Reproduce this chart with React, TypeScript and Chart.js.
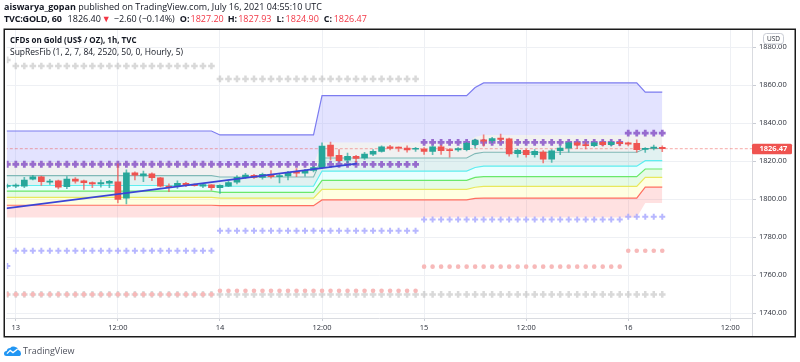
import React, { useEffect, useRef } from "react";
import { Chart, registerables } from "chart.js";

Chart.register(...registerables);

const FONT = "'Open Sans', 'Liberation Sans', Arial, sans-serif";

// ---- candles: hourly bars, first bar = hour -1 (12th 23:00), hour 0 = 13th 00:00
const firstHour = -1;
const opens = [
  1806.6, 1806.8, 1806.8, 1810.5, 1811.7, 1808.9, 1809.5, 1806.5, 1810.5, 1809.6,
  1808.6, 1807.9, 1808.3, 1809.1, 1800.4, 1813.8, 1812.1, 1813.2, 1811.2, 1806.8,
  1807.0, 1808.3, 1807.7, 1806.8, 1807.4, 1806.0, 1806.8, 1808.8, 1811.4, 1812.4,
  1811.4, 1813.0, 1811.8, 1812.2, 1814.4, 1813.6, 1815.0, 1816.5, 1828.4, 1823.0,
  1820.4, 1822.5, 1821.6, 1823.6, 1825.1, 1827.4, 1827.1, 1826.8, 1826.2, 1826.3,
  1825.1, 1827.5, 1826.0, 1825.8, 1826.0, 1828.6, 1831.2, 1830.7, 1832.0, 1831.7,
  1823.8, 1825.6, 1823.3, 1824.7, 1820.9, 1825.4, 1826.8, 1829.5, 1828.7, 1828.1,
  1829.8, 1828.6, 1829.8, 1829.5, 1829.3, 1826.1, 1826.8, 1827.2,
];
const highs = [
  1807.8, 1808.0, 1811.4, 1812.5, 1812.0, 1810.3, 1810.0, 1811.8, 1811.3, 1810.0,
  1809.0, 1810.0, 1809.8, 1818.5, 1815.3, 1814.3, 1814.7, 1813.8, 1811.4, 1808.0,
  1809.5, 1808.8, 1808.0, 1808.0, 1807.6, 1807.5, 1809.5, 1812.3, 1813.5, 1813.0,
  1813.6, 1814.9, 1813.0, 1814.5, 1816.0, 1815.6, 1817.0, 1829.6, 1830.0, 1826.0,
  1824.2, 1823.0, 1824.5, 1826.0, 1828.0, 1828.2, 1827.5, 1828.0, 1827.2, 1827.0,
  1828.0, 1828.2, 1826.6, 1827.0, 1829.8, 1831.5, 1833.8, 1832.5, 1834.2, 1832.0,
  1826.3, 1826.3, 1826.0, 1825.5, 1826.0, 1828.0, 1830.0, 1830.2, 1830.0, 1830.0,
  1830.5, 1830.5, 1830.8, 1830.0, 1831.2, 1827.0, 1828.4, 1827.93,
];
const lows = [
  1805.8, 1806.0, 1806.0, 1810.0, 1807.2, 1807.7, 1805.3, 1805.5, 1808.3, 1805.1,
  1806.0, 1806.2, 1806.0, 1798.0, 1797.4, 1810.0, 1809.1, 1809.6, 1806.3, 1803.8,
  1805.6, 1806.5, 1806.7, 1806.0, 1804.7, 1803.0, 1806.5, 1808.0, 1810.8, 1810.8,
  1810.5, 1811.0, 1808.5, 1810.0, 1811.7, 1812.0, 1814.3, 1816.0, 1820.5, 1819.8,
  1818.9, 1819.5, 1820.8, 1822.8, 1824.6, 1825.8, 1825.0, 1824.7, 1825.0, 1823.5,
  1823.3, 1823.5, 1822.0, 1825.0, 1825.3, 1826.8, 1827.8, 1829.6, 1830.5, 1822.5,
  1822.0, 1822.0, 1822.0, 1819.0, 1819.3, 1823.3, 1824.7, 1826.5, 1826.3, 1827.5,
  1827.8, 1827.8, 1828.0, 1828.0, 1824.7, 1824.5, 1825.8, 1824.9,
];
const closes = [
  1807.0, 1807.3, 1810.0, 1811.7, 1809.1, 1809.2, 1806.2, 1810.5, 1809.4, 1808.6,
  1807.9, 1808.6, 1809.3, 1799.8, 1813.8, 1812.6, 1813.2, 1811.2, 1806.8, 1806.2,
  1808.3, 1807.0, 1807.0, 1807.6, 1805.9, 1807.2, 1808.6, 1811.4, 1812.6, 1811.4,
  1813.0, 1811.8, 1812.2, 1814.0, 1813.6, 1815.1, 1816.5, 1827.9, 1822.5, 1820.2,
  1822.5, 1821.3, 1823.7, 1825.1, 1827.4, 1826.6, 1826.8, 1825.8, 1826.6, 1825.1,
  1827.5, 1825.4, 1825.4, 1826.5, 1829.3, 1831.0, 1830.4, 1831.8, 1831.4, 1823.7,
  1825.6, 1823.3, 1825.1, 1820.9, 1825.4, 1826.8, 1829.5, 1828.3, 1828.1, 1829.5,
  1828.6, 1829.8, 1829.1, 1828.8, 1826.0, 1826.6, 1827.0, 1826.47,
];
const lastPrice = 1826.47;

// ---- axes
const xTickHours = [0, 12, 24, 36, 48, 60, 72, 84];
const xTickLabels = ["13", "12:00", "14", "12:00", "15", "12:00", "16", "12:00"];
const yTickValues = [1740, 1760, 1780, 1800, 1820, 1840, 1860, 1880];
const xMin = -1.06;
const xMax = 86.55;
const yMin = 1737.37;
const yMax = 1888.95;

// ---- SupResFib bands (break points in hours)
const bandHours = [-2, 23, 24, 35, 36, 53, 54, 55, 73, 74, 76];
const bandTop = [1835.8, 1835.8, 1833.7, 1833.7, 1854.4, 1854.4, 1858.7, 1861.1, 1861.1, 1856.3, 1856.3];
const bandGray = [1819.5, 1819.5, 1817.9, 1817.9, 1829.8, 1829.8, 1832.6, 1833.7, 1833.7, 1834.0, 1834.0];
const bandTeal = [1812.3, 1812.3, 1811.6, 1811.6, 1821.6, 1821.6, 1823.9, 1824.6, 1824.6, 1826.6, 1826.6];
const bandCyan = [1807.1, 1807.1, 1806.7, 1806.7, 1814.7, 1814.7, 1816.6, 1817.3, 1817.3, 1820.2, 1820.2];
const bandGreen = [1804.1, 1804.1, 1803.5, 1803.5, 1809.8, 1809.8, 1811.4, 1811.8, 1811.8, 1815.8, 1815.8];
const bandYellow = [1800.9, 1800.9, 1800.5, 1800.5, 1805.1, 1805.1, 1806.2, 1806.6, 1806.6, 1811.4, 1811.4];
const bandRed = [1796.7, 1796.7, 1796.5, 1796.5, 1799.5, 1799.5, 1800.3, 1800.5, 1800.5, 1806.2, 1806.2];
const bandBottom = [1790.2, 1790.2, 1790.2, 1790.2, 1790.2, 1790.2, 1790.2, 1790.2, 1790.2, 1797.9, 1797.9];

// ---- daily marker levels (days: 12th tail, 13, 14, 15, 16)
const dayFirstHours = [-1, 0, 24, 48, 72];
const dayLastHours = [-1, 23, 47, 71, 76];
const grayUpperLevels = [1873.2, 1870.0, 1863.2, null, null];
const purpleLevels = [1818.3, 1818.3, 1818.2, 1829.8, 1834.7];
const lavenderLevels = [1764.7, 1772.8, 1783.3, 1789.2, 1790.6];
const pinkLevels = [1749.8, 1749.8, 1751.7, 1764.4, 1772.8];
const grayLowerLevels = [1749.8, 1749.8, 1749.8, 1749.8, 1749.8];

// ---- drawn trend line
const trendHours = [-2, 40.1];
const trendValues = [1794.6, 1818.6];

const UP = "#26a69a";
const DOWN = "#ef5350";

function dailyPoints(levels: (number | null)[]) {
  const pts: { x: number; y: number }[] = [];
  levels.forEach((lv, d) => {
    if (lv == null) return;
    for (let h = dayFirstHours[d]; h <= dayLastHours[d]; h++) pts.push({ x: h, y: lv });
  });
  return pts;
}

function bandPoints(values: number[]) {
  return values.map((v, i) => ({ x: bandHours[i], y: v }));
}

const overlayPlugin = {
  id: "overlay",
  afterDraw(chart: any) {
    const ctx = chart.ctx as CanvasRenderingContext2D;
    const a = chart.chartArea;
    const y = chart.scales.y;
    ctx.save();
    ctx.strokeStyle = "#d9dbe0";
    ctx.lineWidth = 1;
    ctx.beginPath();
    ctx.moveTo(a.right + 0.5, a.bottom);
    ctx.lineTo(a.right + 0.5, 337);
    ctx.stroke();
    const py = y.getPixelForValue(lastPrice);
    ctx.fillStyle = DOWN;
    ctx.beginPath();
    (ctx as any).roundRect(a.right, py - 5, 40, 10.5, 1.5);
    ctx.fill();
    ctx.fillStyle = "#ffffff";
    ctx.font = `bold 7.5px ${FONT}`;
    ctx.textBaseline = "middle";
    ctx.textAlign = "left";
    ctx.fillText(lastPrice.toFixed(2), a.right + 7.5, py + 0.5);
    ctx.fillStyle = "#ffffff";
    ctx.strokeStyle = "#c9ccd4";
    ctx.beginPath();
    (ctx as any).roundRect(763.5, 33.5, 20, 10.5, 3);
    ctx.fill();
    ctx.stroke();
    ctx.fillStyle = "#2a2e39";
    ctx.font = `6.5px ${FONT}`;
    ctx.textAlign = "center";
    ctx.fillText("USD", 773.5, 39);
    ctx.strokeStyle = "#1b1b1b";
    ctx.lineWidth = 1.5;
    ctx.strokeRect(4.25, 29.25, 791, 307.5);
    ctx.restore();
  },
};

const headerPieces: { text: string; gap: number; bold?: boolean; red?: boolean }[] = [
  { text: "TVC:GOLD, 60", gap: 0, bold: true },
  { text: "1826.40", gap: 6 },
  { text: "▼", gap: 1 },
  { text: "−2.60 (−0.14%)", gap: 3 },
  { text: "O:", gap: 5, bold: true },
  { text: "1827.20", gap: 1, red: true },
  { text: "H:", gap: 4, bold: true },
  { text: "1827.93", gap: 1, red: true },
  { text: "L:", gap: 5, bold: true },
  { text: "1824.90", gap: 1.5, red: true },
  { text: "C:", gap: 5, bold: true },
  { text: "1826.47", gap: 1.5, red: true },
];

export default function App() {
  const ref = useRef<HTMLCanvasElement>(null);

  useEffect(() => {
    const canvas = ref.current!;
    const hours = opens.map((_, i) => firstHour + i);
    const isUp = opens.map((o, i) => closes[i] >= o);

    const lineBase = {
      type: "line" as const,
      pointRadius: 0,
      tension: 0,
      clip: 0,
    };
    const bands = [
      { data: bandPoints(bandTop), borderColor: "#7c7cf0", borderWidth: 1.2, fill: "+1", backgroundColor: "rgba(170,170,255,0.33)" },
      { data: bandPoints(bandGray), borderColor: "rgba(0,0,0,0)", borderWidth: 1, fill: "+1", backgroundColor: "rgba(190,190,190,0.22)" },
      { data: bandPoints(bandTeal), borderColor: "#80b9b7", borderWidth: 1.1, fill: "+1", backgroundColor: "rgba(120,190,190,0.22)" },
      { data: bandPoints(bandCyan), borderColor: "#5eeef0", borderWidth: 1.2, fill: "+1", backgroundColor: "rgba(100,255,255,0.14)" },
      { data: bandPoints(bandGreen), borderColor: "#6ae86a", borderWidth: 1.2, fill: "+1", backgroundColor: "rgba(100,230,100,0.16)" },
      { data: bandPoints(bandYellow), borderColor: "#e8e85c", borderWidth: 1.2, fill: "+1", backgroundColor: "rgba(255,255,120,0.22)" },
      { data: bandPoints(bandRed), borderColor: "#ff6f61", borderWidth: 1.2, fill: "+1", backgroundColor: "rgba(255,120,120,0.22)" },
      { data: bandPoints(bandBottom), borderColor: "rgba(0,0,0,0)", borderWidth: 1, fill: false },
    ].map((d, i) => ({ ...lineBase, ...d, order: 200 - i }));

    const markerBase = {
      type: "line" as const,
      showLine: false,
      clip: 0,
    };
    const markers = [
      { data: dailyPoints(grayLowerLevels), pointStyle: "cross", pointRadius: 3.3, pointBorderWidth: 2.5, pointBorderColor: "rgba(185,185,185,0.55)", order: 49 },
      { data: dailyPoints(pinkLevels), pointStyle: "circle", pointRadius: 2.3, pointBorderWidth: 0, pointBackgroundColor: "#f7b9b9", pointBorderColor: "#f7b9b9", order: 48 },
      { data: dailyPoints(lavenderLevels), pointStyle: "cross", pointRadius: 3, pointBorderWidth: 2, pointBorderColor: "rgba(170,170,255,0.85)", order: 47 },
      { data: dailyPoints(grayUpperLevels), pointStyle: "cross", pointRadius: 3.3, pointBorderWidth: 2.5, pointBorderColor: "rgba(185,185,185,0.55)", order: 46 },
      { data: dailyPoints(purpleLevels), pointStyle: "cross", pointRadius: 3.4, pointBorderWidth: 2.8, pointBorderColor: "rgba(140,90,200,0.88)", order: 45 },
    ].map((d) => ({ ...markerBase, ...d }));

    const datasets: any[] = [
      ...bands,
      {
        ...lineBase,
        data: [{ x: xMin - 2, y: lastPrice }, { x: xMax + 2, y: lastPrice }],
        borderColor: "rgba(239,83,80,0.5)",
        borderWidth: 1,
        borderDash: [3, 2],
        fill: false,
        order: 60,
      },
      ...markers,
      {
        type: "bar",
        data: hours.map((h, i) => ({ x: h, y: [lows[i], highs[i]] })),
        backgroundColor: isUp.map((u) => (u ? "rgba(38,166,154,0.7)" : "rgba(239,83,80,0.7)")),
        barThickness: 1,
        grouped: false,
        borderWidth: 0,
        clip: 0,
        order: 20,
      },
      {
        type: "bar",
        data: hours.map((h, i) => ({ x: h, y: [opens[i], closes[i]] })),
        backgroundColor: isUp.map((u) => (u ? UP : DOWN)),
        barThickness: 6,
        minBarLength: 1,
        grouped: false,
        borderWidth: 0,
        clip: 0,
        order: 10,
      },
      {
        ...lineBase,
        data: trendHours.map((h, i) => ({ x: h, y: trendValues[i] })),
        borderColor: "#3b44d6",
        borderWidth: 1.8,
        fill: false,
        order: 0,
      },
    ];

    const tickFont = { family: FONT, size: 7.5 };
    const chart = new Chart(canvas, {
      type: "line",
      data: { datasets },
      options: {
        responsive: false,
        animation: false,
        events: [],
        layout: { padding: { left: 5, top: 30, right: 5, bottom: 25 } },
        plugins: {
          legend: { display: false },
          tooltip: { enabled: false },
          filler: { drawTime: "beforeDatasetsDraw" },
        },
        scales: {
          x: {
            type: "linear",
            min: xMin,
            max: xMax,
            offset: false,
            afterBuildTicks: (s: any) => {
              s.ticks = xTickHours.map((v) => ({ value: v }));
            },
            afterFit: (s: any) => {
              s.height = 19;
            },
            ticks: {
              callback: (_v: any, i: number) => xTickLabels[i],
              font: tickFont,
              color: "#2a2e39",
              padding: 2,
              autoSkip: false,
              maxRotation: 0,
            },
            grid: { color: "#eef0f4", tickColor: "#c9ccd4", tickLength: 3, offset: false },
            border: { color: "#d9dbe0" },
          },
          y: {
            type: "linear",
            position: "right",
            min: yMin,
            max: yMax,
            afterBuildTicks: (s: any) => {
              s.ticks = yTickValues.map((v) => ({ value: v }));
            },
            afterFit: (s: any) => {
              s.width = 43;
            },
            ticks: {
              callback: (v: any) => Number(v).toFixed(2),
              font: tickFont,
              color: "#2a2e39",
              padding: 3,
              crossAlign: "near",
            },
            grid: { color: "#eef0f4", tickColor: "#c9ccd4", tickLength: 4 },
            border: { color: "#d9dbe0" },
          },
        },
      } as any,
      plugins: [overlayPlugin],
    });
    return () => chart.destroy();
  }, []);

  const red = "#f23645";
  return (
    <div
      style={{
        position: "fixed",
        left: 0,
        top: 0,
        width: 800,
        height: 362,
        background: "#ffffff",
        overflow: "hidden",
        fontFamily: FONT,
        color: "#131722",
      }}
    >
      <canvas ref={ref} width={800} height={362} style={{ position: "absolute", left: 0, top: 0 }} />
      <div style={{ position: "absolute", left: 4, top: 1, fontSize: 9, lineHeight: "12px", whiteSpace: "nowrap" }}>
        <b>aiswarya_gopan</b> published on TradingView.com, July 16, 2021 04:55:10 UTC
      </div>
      <div
        style={{
          position: "absolute",
          left: 4,
          top: 13,
          fontSize: 9,
          lineHeight: "12px",
          whiteSpace: "nowrap",
          display: "flex",
        }}
      >
        {headerPieces.map((p, i) => (
          <span
            key={i}
            style={{
              marginLeft: p.gap,
              fontWeight: p.bold ? 700 : 400,
              letterSpacing: i === 0 ? -0.2 : 0,
              color: p.red || p.text === "▼" ? red : "#131722",
            }}
          >
            {p.text}
          </span>
        ))}
      </div>
      <div style={{ position: "absolute", left: 10, top: 34, fontSize: 8, lineHeight: "12px", fontWeight: 700, whiteSpace: "nowrap" }}>
        CFDs on Gold (US$ / OZ), 1h, TVC
      </div>
      <div style={{ position: "absolute", left: 10, top: 46, fontSize: 8.5, lineHeight: "12px", whiteSpace: "nowrap" }}>
        SupResFib (1, 2, 7, 84, 2520, 50, 0, Hourly, 5)
      </div>
      <div style={{ position: "absolute", left: 4, top: 344, display: "flex", alignItems: "center", whiteSpace: "nowrap" }}>
        <svg width="17" height="10" viewBox="0 0 17 10">
          <path
            d="M2.5 10 Q0 10 0 7.5 Q0 5 2.6 5 Q3.2 2 6.2 2 Q8 0 10.8 0.8 Q13.6 1.2 14.4 4 Q17 4.8 17 7.4 Q17 10 14.5 10 Z"
            fill="#2196f3"
          />
          <path d="M3 7.6 L6.2 4.4 L9 6.6 L13.6 3" stroke="#ffffff" strokeWidth="1.3" fill="none" />
        </svg>
        <span style={{ marginLeft: 2, fontSize: 9, color: "#50535e" }}>TradingView</span>
      </div>
    </div>
  );
}
